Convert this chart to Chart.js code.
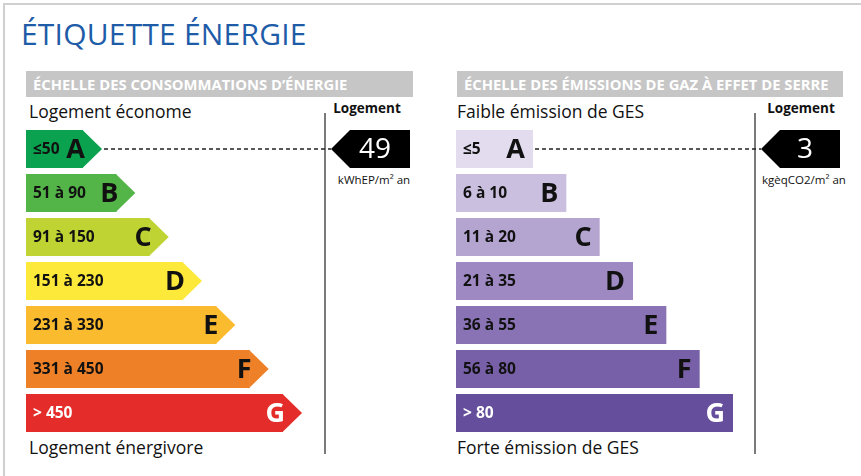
<!DOCTYPE html>
<html>
<head>
<meta charset="utf-8">
<script src="https://cdn.jsdelivr.net/npm/chart.js@4/dist/chart.umd.min.js"></script>
<style>
  body { margin: 0; background: #fff; font-family: "Open Sans", sans-serif; }
  #page { position: relative; width: 861px; height: 476px; overflow: hidden; }
  .abs { position: absolute; white-space: nowrap; }
  #frame { left: 3px; top: 3px; width: 900px; height: 500px; border: 2px solid #d0d0d0; }
  #title { left: 21px; top: 14px; font-size: 30px; color: #1f5ca8; line-height: 40px; letter-spacing: 0.2px; }
  .band { top: 71px; height: 26px; background: #c6c6c6; color: #fff; font-weight: bold;
          font-size: 14.8px; line-height: 26px; padding-left: 7px; box-sizing: border-box; }
  .side { font-size: 17.5px; color: #111; line-height: 20px; }
  .logt { font-size: 13.5px; font-weight: bold; color: #111; line-height: 16px; transform: translateX(-50%); }
  .unit { font-size: 11.5px; color: #111; line-height: 14px; transform: translateX(-50%); }
  .vline { width: 2px; background: #7a7a7a; top: 113px; height: 341px; }
  canvas { position: absolute; }
</style>
</head>
<body>
<div id="page">
  <div id="frame" class="abs"></div>
  <div id="title" class="abs">ÉTIQUETTE ÉNERGIE</div>

  <div class="abs band" style="left:26px;width:387px">ÉCHELLE DES CONSOMMATIONS D’ÉNERGIE</div>
  <div class="abs band" style="left:457px;width:386px">ÉCHELLE DES ÉMISSIONS DE GAZ À EFFET DE SERRE</div>

  <div class="abs side" style="left:29px;top:101px">Logement économe</div>
  <div class="abs side" style="left:29px;top:437px">Logement énergivore</div>
  <div class="abs side" style="left:457px;top:101px">Faible émission de GES</div>
  <div class="abs side" style="left:457px;top:437px">Forte émission de GES</div>

  <div class="abs vline" style="left:324px"></div>
  <div class="abs vline" style="left:754px"></div>

  <div class="abs logt" style="left:367px;top:100px">Logement</div>
  <div class="abs logt" style="left:801px;top:100px">Logement</div>
  <div class="abs unit" style="left:374px;top:173px">kWhEP/m² an</div>
  <div class="abs unit" style="left:804px;top:173px">kgèqCO2/m² an</div>

  <canvas id="energyChart" width="395" height="308" style="left:26px;top:127px"></canvas>
  <canvas id="gesChart" width="395" height="308" style="left:456px;top:127px"></canvas>
</div>

<script>
// Classes and their ranges
const classes = ['A', 'B', 'C', 'D', 'E', 'F', 'G'];

const energyRanges = ['≤50', '51 à 90', '91 à 150', '151 à 230', '231 à 330', '331 à 450', '> 450'];
const energyLimits = [50, 90, 150, 230, 330, 450, Infinity];
const energyRank = [1, 2, 3, 4, 5, 6, 7];
const energyColors = ['#0aa24f', '#53b447', '#bfd432', '#fde93a', '#fbbb2f', '#ee8128', '#e42d2a'];
const energyValue = 49;

const gesRanges = ['≤5', '6 à 10', '11 à 20', '21 à 35', '36 à 55', '56 à 80', '> 80'];
const gesLimits = [5, 10, 20, 35, 55, 80, Infinity];
const gesRank = [1, 2, 3, 4, 5, 6, 7];
const gesColors = ['#e3dcee', '#cbbfdf', '#b3a4d0', '#9e89c2', '#8a73b5', '#7860a8', '#654f9c'];
const gesValue = 3;

const FONT = '"Open Sans", sans-serif';

// draws arrow tips, texts, the dotted line and the black marker
function labelPlugin(ranges, limits, value, withTip, letterShift) {
  return {
    id: 'labels',
    afterDatasetsDraw(chart) {
      const ctx = chart.ctx;
      const bars = chart.getDatasetMeta(0).data;
      const colors = chart.data.datasets[0].backgroundColor;
      ctx.save();
      bars.forEach((bar, i) => {
        const h = bar.height;
        const top = bar.y - h / 2;
        if (withTip) {
          ctx.fillStyle = colors[i];
          ctx.beginPath();
          ctx.moveTo(bar.x - 0.5, top);
          ctx.lineTo(bar.x + h / 2, bar.y);
          ctx.lineTo(bar.x - 0.5, top + h);
          ctx.closePath();
          ctx.fill();
        }
        const txt = i === bars.length - 1 ? '#fff' : '#111';
        ctx.fillStyle = txt;
        ctx.textBaseline = 'middle';
        ctx.textAlign = 'left';
        ctx.font = 'bold 15.5px ' + FONT;
        ctx.fillText(ranges[i], bar.base + 7, bar.y + 1);
        ctx.textAlign = 'right';
        ctx.font = 'bold 27px ' + FONT;
        ctx.fillText(classes[i], bar.x + letterShift, bar.y + 1);
      });

      // marker for the dwelling value
      const idx = limits.findIndex(l => value <= l);
      const bar = bars[idx];
      const h = bar.height;
      const tipX = chart.chartArea.right + 5;
      const endX = tipX + 79;
      const startX = bar.x + (withTip ? h / 2 : 0) + 2;

      ctx.strokeStyle = '#222';
      ctx.lineWidth = 1.5;
      ctx.setLineDash([4, 3]);
      ctx.beginPath();
      ctx.moveTo(startX, bar.y);
      ctx.lineTo(tipX, bar.y);
      ctx.stroke();
      ctx.setLineDash([]);

      ctx.fillStyle = '#000';
      ctx.beginPath();
      ctx.moveTo(tipX, bar.y);
      ctx.lineTo(tipX + h / 2, bar.y - h / 2);
      ctx.lineTo(endX, bar.y - h / 2);
      ctx.lineTo(endX, bar.y + h / 2);
      ctx.lineTo(tipX + h / 2, bar.y + h / 2);
      ctx.closePath();
      ctx.fill();

      ctx.fillStyle = '#fff';
      ctx.font = '28px ' + FONT;
      ctx.textAlign = 'center';
      ctx.textBaseline = 'middle';
      ctx.fillText(String(value), tipX + 44, bar.y + 1);
      ctx.restore();
    }
  };
}

function makeChart(id, ranks, colors, xMin, ranges, limits, value, withTip, letterShift) {
  return new Chart(document.getElementById(id), {
    type: 'bar',
    data: {
      labels: classes,
      datasets: [{
        data: ranks,
        backgroundColor: colors,
        base: xMin,
        borderWidth: 0,
        categoryPercentage: 1,
        barPercentage: 38 / 44
      }]
    },
    options: {
      indexAxis: 'y',
      responsive: false,
      animation: false,
      layout: { padding: { left: 0, top: 0, bottom: 0, right: 95 } },
      scales: {
        x: { display: false, min: xMin, max: xMin + 9 },
        y: { display: false }
      },
      plugins: {
        legend: { display: false },
        tooltip: { enabled: false }
      }
    },
    plugins: [labelPlugin(ranges, limits, value, withTip, letterShift)]
  });
}

// Energy consumption
makeChart('energyChart', energyRank, energyColors, -0.71, energyRanges, energyLimits, energyValue, true, 2);

// Greenhouse gas emissions
makeChart('gesChart', gesRank, gesColors, -1.31, gesRanges, gesLimits, gesValue, false, -8);
</script>
</body>
</html>
